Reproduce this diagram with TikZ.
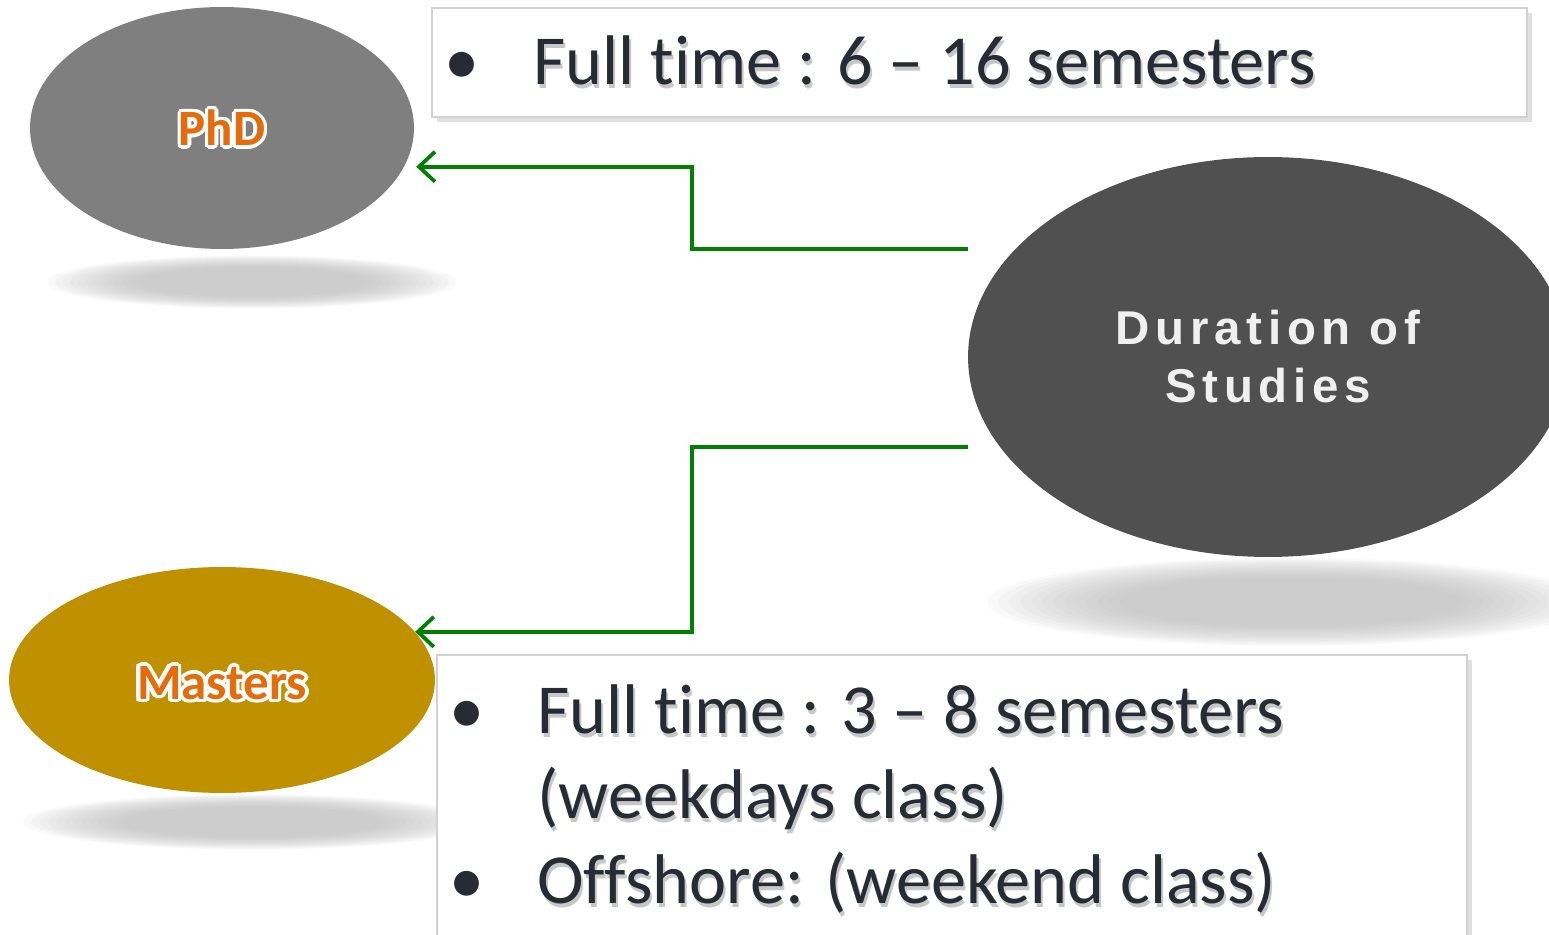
\documentclass[tikz,border=0pt]{standalone}
\usepackage{fontspec}
\setmainfont[Ligatures={TeX,NoCommon}]{Carlito}
\newfontfamily\durfont[LetterSpace=12]{Liberation Sans}
\usetikzlibrary{arrows.meta,calc,shapes.geometric}

\definecolor{phdgray}{HTML}{7F7F7F}
\definecolor{mastergold}{HTML}{BF9000}
\definecolor{durgray}{HTML}{505050}
\definecolor{linkgreen}{HTML}{008000}
\definecolor{inkslate}{HTML}{262B36}
\definecolor{tagorange}{HTML}{E46C0A}

\tikzset{
  px/.style={x=0.02cm,y=-0.02cm},
  blob/.style={ellipse,inner sep=0pt,draw=none},
  tag/.style={font=\fontsize{29}{34}\selectfont\bfseries,text=tagorange},
  glow/.style={tag,text=white},
  bodytxt/.style={font=\fontsize{40}{48}\selectfont,text=inkslate,anchor=base west,inner sep=0pt},
  bullet/.style={bodytxt,anchor=base},
  card/.style={fill=white,draw=black!18,line width=1.5pt},
  link/.style={draw=linkgreen,line width=0.08cm,
    -{Straight Barb[length=0.32cm,width=0.6cm,line width=0.075cm]}}
}

% text with a soft drop shadow
\def\shadowline#1#2#3#4{%
  \node[bodytxt,text=black!40,opacity=.55] at ($(#2,#3)+(2,4)$) {#4};
  \node[bodytxt] (#1) at (#2,#3) {#4};
}
% blurred floor shadow under an ellipse
\def\floorshadow(#1)(#2:#3){%
  \foreach \s in {1.1,1.06,...,0.6}
    \fill[black!26,opacity=.09] (#1) ellipse [x radius={#2*\s}, y radius={#3*\s}];
}

\begin{document}
\begin{tikzpicture}[px]
  \clip (0,0) rectangle (1549,935);
  \fill[white] (0,0) rectangle (1549,935);

  %%%%% shadows %%%%%
  \floorshadow(252,282)(186:24)
  \floorshadow(252,822)(208:25)
  \floorshadow(1290,602)(275:40)

  %%%%% ellipses %%%%%
  \node[blob,fill=phdgray,minimum width=7.68cm,minimum height=4.84cm] (phd) at (222,128) {};
  \node[blob,fill=mastergold,minimum width=8.52cm,minimum height=4.52cm] (masters) at (222,680) {};
  \node[blob,fill=durgray,minimum width=12cm,minimum height=8cm,
    text=white!94!black,align=center,font=\durfont\fontsize{27}{33}\selectfont\bfseries] (dur) at (1268,357) {Duration of\\Studies};

  %%%%% glowing labels %%%%%
  \foreach \a in {0,30,...,330} {
    \node[glow] at ($(phd)+(\a:0.07cm)$) {PhD};
    \node[glow] at ($(masters)+(\a:0.07cm)+(0,3)$) {Masters};
  }
  \node[tag] (phdtag) at (phd) {PhD};
  \node[tag] (mastag) at ($(masters)+(0,3)$) {Masters};

  %%%%% connectors %%%%%
  \coordinate (durA) at ($(dur.west)+(0,-108)$);
  \coordinate (durB) at ($(dur.west)+(0,90)$);
  \coordinate (phdIn) at ($(phd.-12)+(12,0)$);
  \draw[link] (durA) -- ++(-276,0) |- (phdIn);
  \draw[link] (durB) -- ++(-276,0) |- (masters.14);

  %%%%% text cards %%%%%
  \fill[black!12] (437,13) rectangle (1532,122);
  \draw[card] (432,8) rectangle (1527,117);
  \node[bullet] (b1) at (462,85) {•};
  \shadowline{phdtime}{533}{85}{Full time : 6 – 16 semesters}

  \fill[black!12] (442,660) rectangle (1472,945);
  \draw[card] (437,655) rectangle (1467,945);
  \node[bullet] (b2) at (467,733) {•};
  \shadowline{mastime}{537}{733}{Full time : 3 – 8 semesters}
  \shadowline{masweek}{537}{818}{(weekdays class)}
  \node[bullet] (b3) at (467,903) {•};
  \shadowline{masoff}{537}{903}{Offshore: (weekend class)}
\end{tikzpicture}
\end{document}
